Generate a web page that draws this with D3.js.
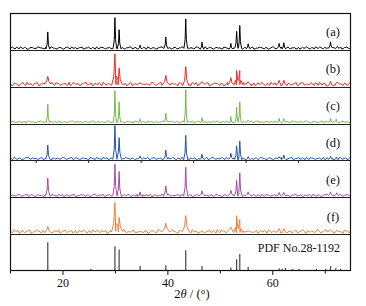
<!DOCTYPE html>
<html><head><meta charset="utf-8">
<script src="https://cdn.jsdelivr.net/npm/d3@7/dist/d3.min.js"></script>
<style>body{margin:0;background:#fff}svg{display:block}</style>
</head><body><svg id="c" width="366" height="306"></svg>
<script>
// 2θ range and tick values
const xDomain = [10, 75];
const majorTicks = [20, 40, 60];
const minorTicks = [10, 30, 50, 70];
const innerTicks = [15, 25, 35, 45, 55, 65];
const sampleLabels = ["(a)", "(b)", "(c)", "(d)", "(e)", "(f)"];
const sampleColors = ["#000000", "#ee2a24", "#6fbe45", "#2453a8", "#a24aa3", "#f37e32"];
// peaks per sample: [2θ, intensity (a.u., panel full = 37)]
const peaksA = [[17.2,17.7],[30.0,32.3],[30.8,20],[34.8,4.3],[39.7,12.7],[43.5,31],[46.6,7.3],[52.1,6],[53.2,18.3],[53.8,24.3],[55.4,5.7],[61.3,6],[62.2,6.7],[71.1,7.7],[72.4,3]];
const peaksB = [[17.2,10],[30.0,33],[30.8,18.7],[34.8,3.5],[39.7,11],[43.5,20],[46.6,4.7],[52.1,8.7],[53.2,16],[53.8,16],[55.4,4.5],[61.3,6],[62.2,6],[71.1,5]];
const peaksC = [[17.2,19.3],[30.0,33],[30.8,21.6],[34.8,4.3],[39.7,10],[43.5,34],[46.6,5.6],[52.1,6.6],[53.2,16],[53.8,21.6],[55.4,3],[61.3,5],[62.2,4.5],[71.1,5],[72.2,4]];
const peaksD = [[17.2,15],[30.0,35],[30.8,22.7],[34.8,4],[39.7,10],[43.5,25],[46.6,5.7],[52.1,6.7],[53.2,14.3],[53.8,19.3],[55.4,3.3],[61.3,3.3],[62.2,5],[71.1,3.5],[72.2,3]];
const peaksE = [[17.2,19],[30.0,33],[30.8,25.7],[34.8,5],[39.7,11],[43.5,30],[46.6,6],[52.1,6.7],[53.2,16.7],[53.8,24.4],[55.4,5],[61.3,4.4],[62.2,4.4],[71.1,5],[72.3,4]];
const peaksF = [[17.2,7.3],[30.0,31.6],[30.8,16.6],[34.8,2.5],[39.7,10.6],[43.5,18.3],[46.6,3],[52.1,6.6],[53.2,18.3],[53.8,14.3],[55.4,3],[61.3,5],[62.2,5],[71.1,4]];
const samplePeaks = [peaksA, peaksB, peaksC, peaksD, peaksE, peaksF];
const peakWidths = [0.35, 0.6, 0.3, 0.4, 0.4, 0.65];
const noiseLevels = [2.5, 4.0, 2.2, 2.6, 2.6, 4.0];
// baseline texture (0.5° steps from 10°)
const texture = [0.4,0.9,0.2,0.6,1.0,0.3,0.7,0.1,0.8,0.5,0.3,0.9,0.6,0.2,0.7,0.4,1.0,0.5,0.1,0.8,0.3,0.6,0.9,0.2,0.5,0.7,0.4,0.8,0.1,0.6,0.9,0.3,0.5,1.0,0.2,0.7,0.4,0.6,0.8,0.3,0.1,0.9,0.5,0.7,0.2,0.6,1.0,0.4,0.8,0.3,0.5,0.9,0.1,0.7,0.4,0.6,0.2,0.8,1.0,0.3,0.5,0.7,0.4,0.9,0.2,0.6,0.8,0.1,0.5,0.7,0.3,1.0,0.6,0.4,0.8,0.2,0.9,0.5,0.3,0.7,0.6,0.1,0.8,0.4,1.0,0.5,0.2,0.7,0.9,0.3,0.6,0.4,0.8,0.1,0.5,0.9,0.7,0.2,0.6,0.3,1.0,0.4,0.8,0.5,0.2,0.7,0.9,0.3,0.6,0.1,0.8,0.4,0.5,1.0,0.3,0.7,0.2,0.6,0.9,0.4,0.8,0.5,0.1,0.7,0.3,0.6,1.0,0.2,0.8,0.4,0.5];
// PDF No.28-1192 reference lines: [2θ, relative intensity]
const pdfLines = [[17.2,100],[25.4,7],[30.0,86],[30.8,75],[34.8,17],[39.7,20],[43.5,72],[46.6,17],[52.1,12],[53.2,41],[53.8,59],[55.4,14],[61.3,10],[61.9,8],[62.5,10],[63.8,7],[65.1,8],[68.4,7],[70.2,7],[71.1,17],[72.1,10],[73.0,8]];
const pdfLabel = "PDF No.28-1192";

const svg = d3.select("#c");
const FONT = "'Liberation Serif','Times New Roman',serif";
const L = 10, R = 351, T = 13, B = 271;
const nPanels = 7;
const ph = (B - T) / nPanels;
const x = d3.scaleLinear().domain(xDomain).range([L, R]);

svg.append("defs").append("clipPath").attr("id","cp")
  .append("rect").attr("x", L).attr("y", T).attr("width", R - L).attr("height", B - T);

const g = svg.append("g").attr("clip-path","url(#cp)");
const n = texture.length;

samplePeaks.forEach((peaks, i) => {
  const top = T + i * ph, bot = top + ph;
  const y = d3.scaleLinear().domain([0, 37]).range([bot - 0.5, top]);
  const w = peakWidths[i], amp = noiseLevels[i];
  const shift = i * 17;
  const pts = [];
  texture.forEach((v, k) => {
    [0, 0.25].forEach((off, j) => {
      const xv = xDomain[0] + k * 0.5 + off;
      if (peaks.some(p => Math.abs(xv - p[0]) < w)) return;
      pts.push([xv, texture[(k + shift + j * 61) % n] * amp]);
    });
  });
  peaks.forEach(p => {
    const nb = texture[(Math.round(p[0] * 2) + shift) % n] * amp * 0.6;
    pts.push([p[0] - w, nb]);
    pts.push([p[0] - w * 0.35, nb + p[1] * 0.28]);
    pts.push([p[0], p[1]]);
    pts.push([p[0] + w * 0.35, nb + p[1] * 0.28]);
    pts.push([p[0] + w, nb]);
  });
  pts.sort((a, b) => a[0] - b[0]);
  g.append("path").datum(pts)
    .attr("fill","none").attr("stroke", sampleColors[i]).attr("stroke-width", 1)
    .attr("stroke-linejoin","round")
    .attr("d", d3.line().x(d => x(d[0])).y(d => y(d[1])));
  svg.append("text").attr("x", 333).attr("y", top + ph / 2 + 5)
    .attr("text-anchor","middle").attr("font-family", FONT).attr("font-size", 12.5)
    .attr("fill","#111").text(sampleLabels[i]);
});

// PDF panel
{
  const top = T + 6 * ph, bot = B;
  const y = d3.scaleLinear().domain([0, 100]).range([bot, bot - 28.7]);
  g.selectAll("line.pdf").data(pdfLines).enter().append("line")
    .attr("x1", d => x(d[0])).attr("x2", d => x(d[0]))
    .attr("y1", y(0)).attr("y2", d => y(d[1]))
    .attr("stroke","#444").attr("stroke-width", 1.2);
  svg.append("text").attr("x", 340).attr("y", top + 18)
    .attr("text-anchor","end").attr("font-family", FONT).attr("font-size", 12)
    .attr("fill","#111").text(pdfLabel);
}

// panel separators
for (let i = 1; i < nPanels; i++) {
  const yy = Math.round(T + i * ph) + 0.5;
  svg.append("line").attr("x1", L).attr("x2", R).attr("y1", yy).attr("y2", yy)
    .attr("stroke","#222").attr("stroke-width", 1);
}
// small ticks under panel (d)
{
  const yy = Math.round(T + 4 * ph) + 0.5;
  svg.selectAll("line.it").data(innerTicks).enter().append("line")
    .attr("x1", d => x(d)).attr("x2", d => x(d)).attr("y1", yy).attr("y2", yy + 2.5)
    .attr("stroke","#222").attr("stroke-width", 1);
}
// frame
svg.append("rect").attr("x", L + 0.5).attr("y", T + 0.5).attr("width", R - L - 1).attr("height", B - T - 1)
  .attr("fill","none").attr("stroke","#111").attr("stroke-width", 1.2);

// axes
const ax = svg.append("g").attr("transform", `translate(0,${B})`)
  .call(d3.axisBottom(x).tickValues(majorTicks).tickSize(4).tickPadding(3).tickFormat(d3.format("d")));
ax.select(".domain").remove();
ax.selectAll("text").attr("font-family", FONT).attr("font-size", 12).attr("fill","#111");
ax.selectAll("line").attr("stroke","#111");
const ax2 = svg.append("g").attr("transform", `translate(0,${B})`)
  .call(d3.axisBottom(x).tickValues(minorTicks).tickSize(2.5).tickFormat(""));
ax2.select(".domain").remove();
ax2.selectAll("line").attr("stroke","#111");

const xl = svg.append("text").attr("x", 192).attr("y", 298).attr("text-anchor","middle")
  .attr("font-family", FONT).attr("font-size", 12.5).attr("fill","#111");
xl.append("tspan").text("2");
xl.append("tspan").attr("font-style","italic").text("θ");
xl.append("tspan").text(" / (°)");
</script></body></html>
